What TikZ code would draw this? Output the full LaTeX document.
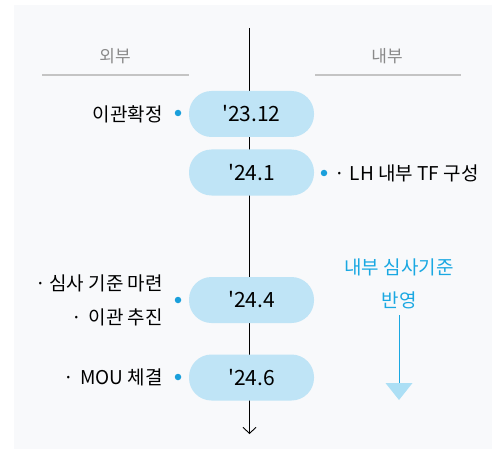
\documentclass[tikz,border=0pt]{standalone}
\usepackage{fontspec}
\setmainfont{Noto Sans CJK KR}
\newfontfamily\plainfont{Noto Sans CJK KR}
\usetikzlibrary{arrows.meta}
\definecolor{bgc}{HTML}{F8F9FB}
\definecolor{pillc}{HTML}{BFE4F6}
\definecolor{dotc}{HTML}{1A9FDB}
\definecolor{bluet}{HTML}{1AA8E2}
\definecolor{tric}{HTML}{ACDFF5}
\definecolor{grayt}{HTML}{8A8A8A}
\definecolor{grayl}{HTML}{C4C4C4}
\begin{document}
\begin{tikzpicture}[x=1pt,y=-1pt,
  pill/.style={fill=pillc,rounded corners=22.5pt,minimum width=125pt,minimum height=46pt,inner sep=0pt,font=\plainfont\fontsize{21}{21}\selectfont},
  dotnode/.style={circle,fill=dotc,minimum size=6.5pt,inner sep=0pt},
  lab/.style={font=\fontsize{19}{19}\selectfont,inner sep=0pt,text=black},
  head/.style={font=\fontsize{17}{17}\selectfont,text=grayt,inner sep=0pt},
  hline/.style={draw=grayl,line width=1.2pt},
  bluetext/.style={font=\fontsize{19}{19}\selectfont,text=bluet,inner sep=0pt}]
\useasboundingbox (0,0) rectangle (492,449);
\fill[white] (0,0) rectangle (492,449);
\fill[bgc] (14,5) rectangle (492,449);
% axis
\coordinate (top) at (249.5,28);
\coordinate (bot) at (249.5,434);
\draw[line width=0.9pt,-{Straight Barb[length=6pt,width=13pt,line width=0.9pt]}] (top) -- (bot);
% headers
\node[head] (hl) at (115,56) {외부};
\node[head] (hr) at (387,56) {내부};
\coordinate (hl1) at (42,75); \coordinate (hl2) at (189,75);
\coordinate (hr1) at (315,75); \coordinate (hr2) at (461,75);
\draw[hline] (hl1) -- (hl2);
\draw[hline] (hr1) -- (hr2);
% pills
\node[pill] (p1) at (251.5,114) {'23.12};
\node[pill] (p2) at (251.5,172.5) {'24.1};
\node[pill] (p3) at (251.5,300) {'24.4};
\node[pill] (p4) at (251.5,377.5) {'24.6};
% dots
\node[dotnode] (d1) at (178,113) {};
\node[dotnode] (d2) at (324,173) {};
\node[dotnode] (d3) at (178,300) {};
\node[dotnode] (d4) at (178,377) {};
% labels
\node[lab,anchor=east] (l1) at (163,114) {이관확정};
\node[lab,anchor=west] (l2) at (334,173) {·\hspace{5pt}LH 내부 TF 구성};
\node[lab,anchor=east] (l3a) at (163,283) {·\hspace{3pt}심사 기준 마련};
\node[lab,anchor=east] (l3b) at (163,317) {·\hspace{6pt}이관 추진};
\node[lab,anchor=east] (l4) at (163,377) {·\hspace{6pt}MOU 체결};
% right blue
\node[bluetext] (b1) at (399,267) {내부 심사기준};
\node[bluetext] (b2) at (399,300) {반영};
\coordinate (bl1) at (399,315);
\coordinate (bl2) at (399,384);
\draw[bluet,line width=0.9pt] (bl1) -- (bl2);
\fill[tric] (385.5,383) -- (412.5,383) -- (399,400) -- cycle;
\end{tikzpicture}
\end{document}
